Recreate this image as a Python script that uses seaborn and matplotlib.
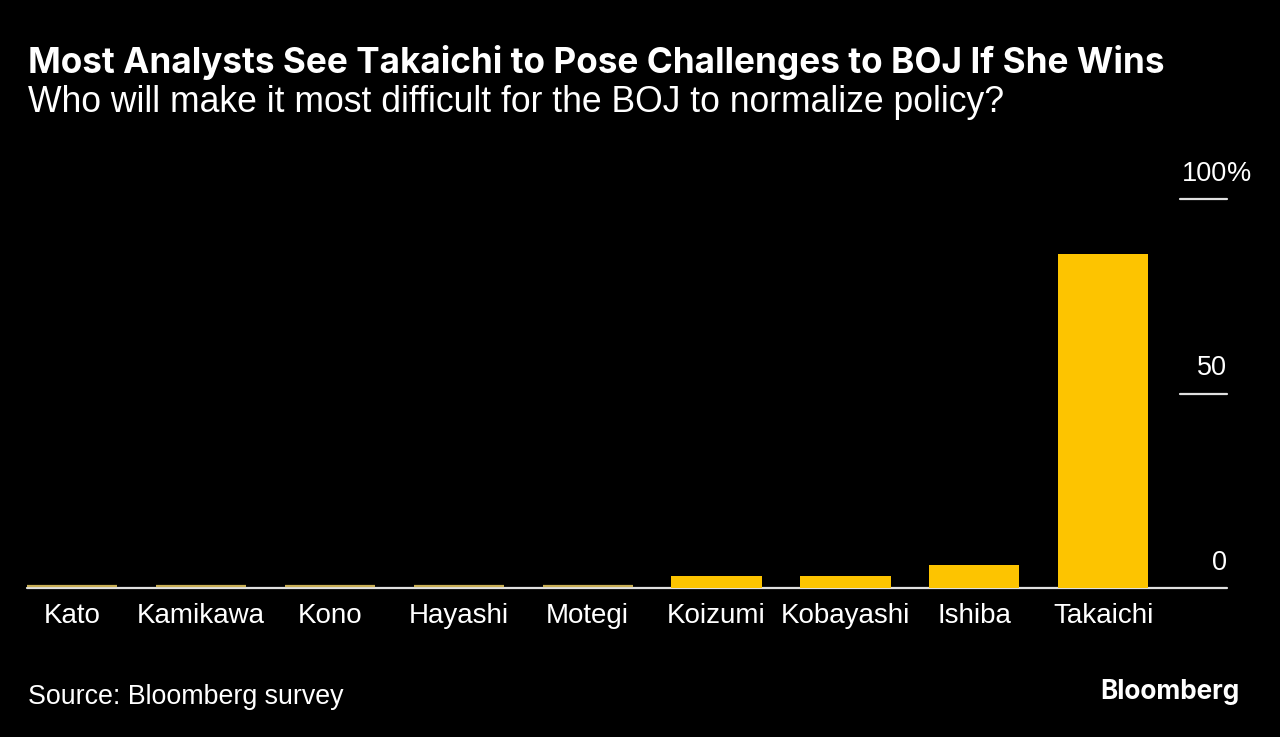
import matplotlib
matplotlib.use("Agg")
import matplotlib.pyplot as plt
import seaborn as sns
import pandas as pd

categories = ["Kato", "Kamikawa", "Kono", "Hayashi", "Motegi",
              "Koizumi", "Kobayashi", "Ishiba", "Takaichi"]
values = [0, 0, 0, 0, 0, 3, 3, 6, 86]
ytick_values = [0, 50, 100]
ytick_labels = ["0", "50", "100"]

title = "Most Analysts See Takaichi to Pose Challenges to BOJ If She Wins"
subtitle = "Who will make it most difficult for the BOJ to normalize policy?"
source = "Source: Bloomberg survey"

BG = "#000000"
BAR = "#FDC400"
FG = "#FFFFFF"
LINE = "#E0E0E0"

sns.set_theme(style="white")
plt.rcParams["font.family"] = ["Liberation Sans", "DejaVu Sans"]

df = pd.DataFrame({"name": categories, "pct": values})

fig = plt.figure(figsize=(12.8, 7.37), dpi=100)
fig.patch.set_facecolor(BG)
ax = fig.add_axes([27 / 1280, (737 - 588) / 737, (1227 - 27) / 1280, (588 - 199.3) / 737])
ax.set_facecolor(BG)

sns.barplot(data=df, x="name", y="pct", color=BAR, width=0.7, saturation=1,
            ax=ax, order=categories)
ax.axhline(0, color=LINE, lw=1.6, zorder=1, clip_on=False)
for p in ax.patches:
    p.set_facecolor(BAR)
    p.set_edgecolor("none")
    p.set_zorder(2)
    p.set_clip_on(False)
    if p.get_height() == 0:
        p.set_edgecolor("#C9AF55")
        p.set_linewidth(1.6)
        p.set_y(0.45)

ax.set_xlim(-0.35, 8.96)
ax.set_ylim(0, 100)
for s in ax.spines.values():
    s.set_visible(False)
for v, lab in zip(ytick_values, ytick_labels):
    if v > 0:
        ax.axhline(v, xmin=1 - 47 / 1200, xmax=1, color=LINE, lw=1.6, clip_on=False)
    ax.text(1.0, v + 3.2, lab, transform=ax.get_yaxis_transform(), ha="right",
            va="bottom", color=FG, fontsize=19.5, clip_on=False)
ax.text(1.0, 103.2, "%", transform=ax.get_yaxis_transform(), ha="left",
        va="bottom", color=FG, fontsize=19.5, clip_on=False)
ax.set_yticks([])
ax.set_xlabel("")
ax.set_ylabel("")
ax.tick_params(axis="x", length=0, pad=11, labelsize=20, labelcolor=FG)

fig.text(28 / 1280, 1 - 63 / 737, title, color=FG, fontsize=25.3, fontweight="bold",
         family=["Inter", "DejaVu Sans"], ha="left", va="center")
fig.text(28 / 1280, 1 - 103 / 737, subtitle, color=FG, fontsize=25.6,
         ha="left", va="center")
fig.text(28 / 1280, 1 - 697 / 737, source, color=FG, fontsize=19.3,
         ha="left", va="center")
fig.text(1240 / 1280, 1 - 692 / 737, "Bloomberg", color=FG, fontsize=18.8,
         fontweight="bold", family=["Inter", "DejaVu Sans"], ha="right", va="center")

fig.savefig("out.png", dpi=100, facecolor=BG)
